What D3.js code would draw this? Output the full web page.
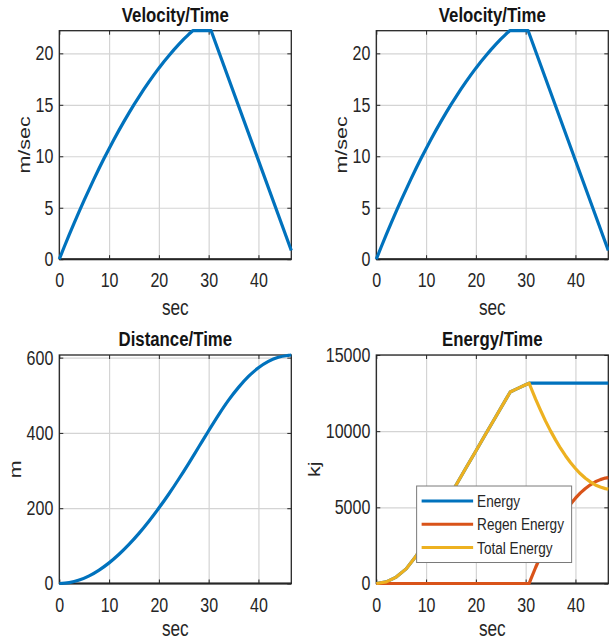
<!DOCTYPE html>
<html>
<head>
<meta charset="utf-8">
<script src="https://cdn.jsdelivr.net/npm/d3@7"></script>
<style>
  body { margin: 0; background: #fff; }
  svg text { font-family: "Liberation Sans", Arial, sans-serif; fill: #262626; }
</style>
</head>
<body>
<svg id="chart" width="609" height="644"></svg>
<script>
const tEnd = 46.6; // last time sample (sec)

// velocity profile (m/sec)
const tVel = [0, 1, 2, 3, 4, 5, 6, 7, 8, 9, 10, 11, 12, 13, 14, 15, 16, 17, 18, 19, 20,
              21, 22, 23, 24, 25, 26, 26.8, 30.5, 46.6];
const velocity = [0, 1.21, 2.38, 3.53, 4.65, 5.74, 6.79, 7.83, 8.83, 9.8, 10.74, 11.65, 12.54,
                  13.39, 14.22, 15.02, 15.78, 16.52, 17.23, 17.91, 18.56, 19.18, 19.77, 20.34,
                  20.87, 21.38, 21.85, 22.2, 22.2, 0.84];

// distance (m)
const tDist = [0, 2, 4, 6, 8, 10, 12, 14, 16, 18, 20, 22, 24, 26, 28, 30, 32, 34, 36, 38, 40,
               42, 44, 46, 46.6];
const distance = [0, 2.3, 9.2, 20.4, 35.7, 54.8, 77.6, 103.8, 133.1, 165.4, 200.4, 237.8, 277.6,
                  319.3, 362.5, 405.8, 448, 487, 521, 550, 573, 590, 601, 606, 607];

// energy (kj)
const tEnergy = [0, 2, 4, 6, 8, 10, 12, 14, 16, 18, 20, 22, 24, 26, 26.9, 28, 30, 30.7,
                 31, 32, 33, 34, 35, 36, 37, 38, 39, 40, 41, 42, 43, 44, 45, 46, 46.6];
const energy = [0, 110, 420, 960, 1800, 2900, 4080, 5290, 6450, 7580, 8700, 9830, 10950, 12070,
                12570, 12740, 13050, 13150,
                13150, 13150, 13150, 13150, 13150, 13150, 13150, 13150, 13150, 13150, 13150,
                13150, 13150, 13150, 13150, 13150, 13150];
const regen = [0, 0, 0, 0, 0, 0, 0, 0, 0, 0, 0, 0, 0, 0, 0, 0, 0, 0,
               250, 1050, 1790, 2490, 3130, 3720, 4270, 4760, 5210, 5600, 5950, 6240, 6480,
               6680, 6820, 6920, 6950];
const total = [0, 110, 420, 960, 1800, 2900, 4080, 5290, 6450, 7580, 8700, 9830, 10950, 12070,
               12570, 12740, 13050, 13150,
               12900, 12100, 11360, 10660, 10020, 9430, 8880, 8390, 7940, 7550, 7200, 6910,
               6670, 6470, 6330, 6230, 6200];

const xTicks = [0, 10, 20, 30, 40];
const seriesNames = ['Energy', 'Regen Energy', 'Total Energy'];

const colors = ['#0072BD', '#D95319', '#EDB120'];
const squeezeX = 0.8; // the reference is horizontally compressed

const svg = d3.select('#chart');

// narrow each text horizontally around its own anchor
function squeeze(sel) {
  sel.each(function () {
    const t = d3.select(this);
    const ax = +t.attr('x') || 0;
    t.attr('transform', `translate(${ax},0) scale(${squeezeX},1) translate(${-ax},0)`);
  });
}

function drawPanel(p) {
  const w = p.width, h = p.height;
  const g = svg.append('g').attr('transform', `translate(${p.left},${p.top})`);

  const x = d3.scaleLinear().domain([0, tEnd]).range([0, w]);
  const y = d3.scaleLinear().domain(p.yDomain).range([h, 0]);

  // grid
  g.append('g').attr('transform', `translate(0,${h})`)
    .call(d3.axisBottom(x).tickValues(xTicks).tickSize(-h).tickFormat(''))
    .call(a => a.select('.domain').remove())
    .selectAll('line').attr('stroke', '#d4d4d4').attr('stroke-width', 1.2);
  g.append('g')
    .call(d3.axisLeft(y).tickValues(p.yTicks).tickSize(-w).tickFormat(''))
    .call(a => a.select('.domain').remove())
    .selectAll('line').attr('stroke', '#d4d4d4').attr('stroke-width', 1.2);

  // box
  g.append('rect').attr('width', w).attr('height', h)
    .attr('fill', 'none').attr('stroke', '#262626').attr('stroke-width', 1.3);
  g.append('line').attr('x1', 0).attr('x2', w).attr('y1', h).attr('y2', h)
    .attr('stroke', '#262626').attr('stroke-width', 2);

  // axes with inward ticks
  const bottom = g.append('g').attr('transform', `translate(0,${h})`)
    .call(d3.axisBottom(x).tickValues(xTicks).tickSizeInner(-4).tickSizeOuter(0).tickPadding(14));
  const left = g.append('g')
    .call(d3.axisLeft(y).tickValues(p.yTicks).tickFormat(d3.format('d'))
      .tickSizeInner(-4).tickSizeOuter(0).tickPadding(6));
  g.append('g')
    .call(d3.axisTop(x).tickValues(xTicks).tickSizeInner(-4).tickSizeOuter(0).tickFormat(''));
  g.append('g').attr('transform', `translate(${w},0)`)
    .call(d3.axisRight(y).tickValues(p.yTicks).tickSizeInner(-4).tickSizeOuter(0).tickFormat(''));

  g.selectAll('.domain').remove();
  g.selectAll('.tick line').attr('stroke', function () {
    return this.getAttribute('stroke') === 'currentColor' ? '#262626' : this.getAttribute('stroke');
  });
  [bottom, left].forEach(a => {
    a.attr('font-family', null).attr('font-size', null);
    a.selectAll('text').attr('font-size', 20).attr('fill', '#262626').call(squeeze);
  });

  // data lines
  p.series.forEach(s => {
    const pts = s.t.map((t, k) => [t, s.v[k]]);
    g.append('path')
      .datum(pts)
      .attr('fill', 'none')
      .attr('stroke', s.color)
      .attr('stroke-width', 3.2)
      .attr('stroke-linejoin', 'round')
      .attr('d', d3.line().curve(p.curve || d3.curveLinear).x(d => x(d[0])).y(d => y(d[1])));
  });

  // title and labels
  g.append('text').attr('x', w / 2).attr('y', -9)
    .attr('text-anchor', 'middle').attr('font-size', 21).attr('font-weight', 'bold')
    .style('fill', '#141414').text(p.title).call(squeeze);
  g.append('text').attr('x', w / 2).attr('y', h + p.xLabelOffset)
    .attr('text-anchor', 'middle').attr('font-size', 21.5).text('sec').call(squeeze);
  g.append('text')
    .attr('transform', `translate(${p.yLabelX},${h / 2}) scale(${squeezeX},1) rotate(-90)`)
    .attr('text-anchor', 'middle').attr('font-size', 21.5)
    .text(p.yLabel);

  if (p.legend) {
    const lg = g.append('g').attr('transform', `translate(${x(8.1)},${y(6400)})`);
    lg.append('rect').attr('width', 155).attr('height', 76.5)
      .attr('fill', '#fff').attr('stroke', '#7a7a7a').attr('stroke-width', 1);
    p.series.forEach((s, i) => {
      const yy = 15 + i * 23.3;
      lg.append('line').attr('x1', 5).attr('x2', 56.5).attr('y1', yy).attr('y2', yy)
        .attr('stroke', s.color).attr('stroke-width', 3);
      lg.append('text').attr('x', 60.5).attr('y', yy + 6.2)
        .attr('font-size', 17).text(s.name).call(squeeze);
    });
  }
}

const colLeft = [59.3, 376.3], colWidth = 232;
const rowTop = [30.7, 355], rowHeight = 228.5;

const velSeries = [{ t: tVel, v: velocity, color: colors[0] }];

drawPanel({ left: colLeft[0], top: rowTop[0], width: colWidth, height: rowHeight,
  yDomain: [0, 22.2], yTicks: [0, 5, 10, 15, 20], title: 'Velocity/Time', yLabel: 'm/sec',
  yLabelX: -29.5, xLabelOffset: 55.5, series: velSeries });
drawPanel({ left: colLeft[1], top: rowTop[0], width: colWidth, height: rowHeight,
  yDomain: [0, 22.2], yTicks: [0, 5, 10, 15, 20], title: 'Velocity/Time', yLabel: 'm/sec',
  yLabelX: -29.5, xLabelOffset: 55.5, series: velSeries });
drawPanel({ left: colLeft[0], top: rowTop[1], width: colWidth, height: rowHeight,
  yDomain: [0, 607], yTicks: [0, 200, 400, 600], title: 'Distance/Time', yLabel: 'm',
  yLabelX: -38, xLabelOffset: 53, curve: d3.curveMonotoneX,
  series: [{ t: tDist, v: distance, color: colors[0] }] });
drawPanel({ left: colLeft[1], top: rowTop[1], width: colWidth, height: rowHeight,
  yDomain: [0, 15000], yTicks: [0, 5000, 10000, 15000], title: 'Energy/Time', yLabel: 'kj',
  yLabelX: -56, xLabelOffset: 53, legend: true,
  series: [
    { t: tEnergy, v: energy, color: colors[0], name: seriesNames[0] },
    { t: tEnergy, v: regen, color: colors[1], name: seriesNames[1] },
    { t: tEnergy, v: total, color: colors[2], name: seriesNames[2] }
  ] });
</script>
</body>
</html>
